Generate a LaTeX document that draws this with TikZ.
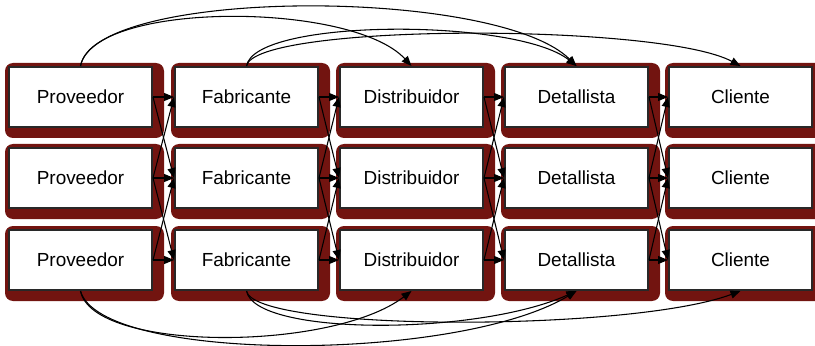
\documentclass[tikz,border=0pt]{standalone}
\usepackage{fontspec}
\setmainfont{Liberation Sans}
\usetikzlibrary{arrows.meta}
\definecolor{shadowred}{RGB}{114,20,16}
\definecolor{edgegray}{RGB}{40,40,40}
\pgfdeclarelayer{background}
\pgfsetlayers{background,main}

\begin{document}
\begin{tikzpicture}[x=0.75pt,y=-0.75pt,
  stage/.style={draw=edgegray,line width=1.5pt,fill=white,
    minimum width=107.25pt,minimum height=45pt,inner sep=0pt,
    font=\fontsize{14.2}{17}\selectfont},
  flow/.style={line width=0.8pt,-{Triangle[length=7.5pt,width=6pt]}}]
\useasboundingbox (0,0) rectangle (815,346);

% three parallel supply chains
\foreach \r/\y in {1/97,2/178,3/260} {
  \node[stage] (P\r) at (80.5,\y)  {Proveedor};
  \node[stage] (F\r) at (246.5,\y) {Fabricante};
  \node[stage] (D\r) at (411.5,\y) {Distribuidor};
  \node[stage] (T\r) at (576.5,\y) {Detallista};
  \node[stage] (C\r) at (740.5,\y) {Cliente};
}

% dark red rounded backing behind every box
\begin{pgfonlayer}{background}
  \foreach \n in {P,F,D,T,C} \foreach \r in {1,2,3}
    \fill[shadowred,rounded corners=6pt]
      ([shift={(-3,-3)}]\n\r.north west) rectangle ([shift={(11,10)}]\n\r.south east);
\end{pgfonlayer}

% links between neighbouring stages, straight and crossed
\foreach \a/\b in {P/F,F/D,D/T,T/C} {
  \foreach \r in {1,2,3} \draw[flow] (\a\r.east) -- (\b\r.west);
  \draw[flow] (\a1.east) -- (\b2.west);
  \draw[flow] (\a2.east) -- (\b1.west);
  \draw[flow] (\a2.east) -- (\b3.west);
  \draw[flow] (\a3.east) -- (\b2.west);
}

% stages skipped over the top
\draw[flow] (P1.north) .. controls +(12,-65) and +(-60,-65) .. (D1.north);
\draw[flow] (P1.north) .. controls +(15,-79) and +(-80,-79) .. (T1.north);
\draw[flow] (F1.north) .. controls +(8,-48) and +(-60,-48) .. (T1.north);
\draw[flow] (F1.north) .. controls +(8,-43) and +(-80,-43) .. (C1.north);

% stages skipped along the bottom
\draw[flow] (P3.south) .. controls +(12,61) and +(-80,61) .. (D3.south);
\draw[flow] (P3.south) .. controls +(20,72) and +(-120,72) .. (T3.south);
\draw[flow] (F3.south) .. controls +(8,45) and +(-100,45) .. (T3.south);
\draw[flow] (F3.south) .. controls +(8,41) and +(-110,41) .. (C3.south);
\end{tikzpicture}
\end{document}
